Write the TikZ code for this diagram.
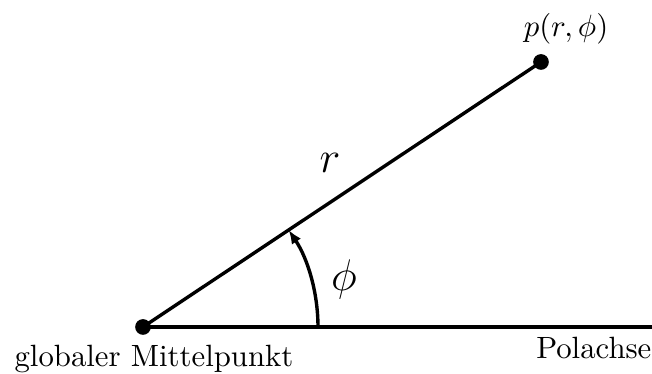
\documentclass[tikz,border=0pt]{standalone}
\usetikzlibrary{arrows.meta}
\begin{document}
\begin{tikzpicture}[x=0.325pt,y=-0.325pt,
  axis/.style={line width=1.1pt},
  pdot/.style={circle,fill=black,inner sep=0pt,minimum size=5.1pt},
  lbl/.style={inner sep=0pt,anchor=base}]
\useasboundingbox (0,0) rectangle (652,374);
\coordinate (O) at (143,327);
\coordinate (E) at (652,327);
\node[pdot] (o) at (O) {};
\node[pdot] (p) at (541,62) {};
\draw[axis] (o.center) -- (E);
\draw[axis] (o.center) -- (p.center);
\draw[axis,-{Latex[length=4.5pt,width=3.6pt]}] (318,327) arc[start angle=0,end angle=-33.66,radius=175];
\node[lbl] (plabel) at (566,37) {$p(r,\phi)$};
\node[lbl] (rlabel) at (330,173) {\Large $r$};
\node[lbl] (philabel) at (344,291) {\Large $\phi$};
\node[lbl] (gm) at (154,367) {globaler Mittelpunkt};
\node[inner sep=0pt,anchor=base east] (pa) at (652,359) {Polachse};
\end{tikzpicture}
\end{document}
